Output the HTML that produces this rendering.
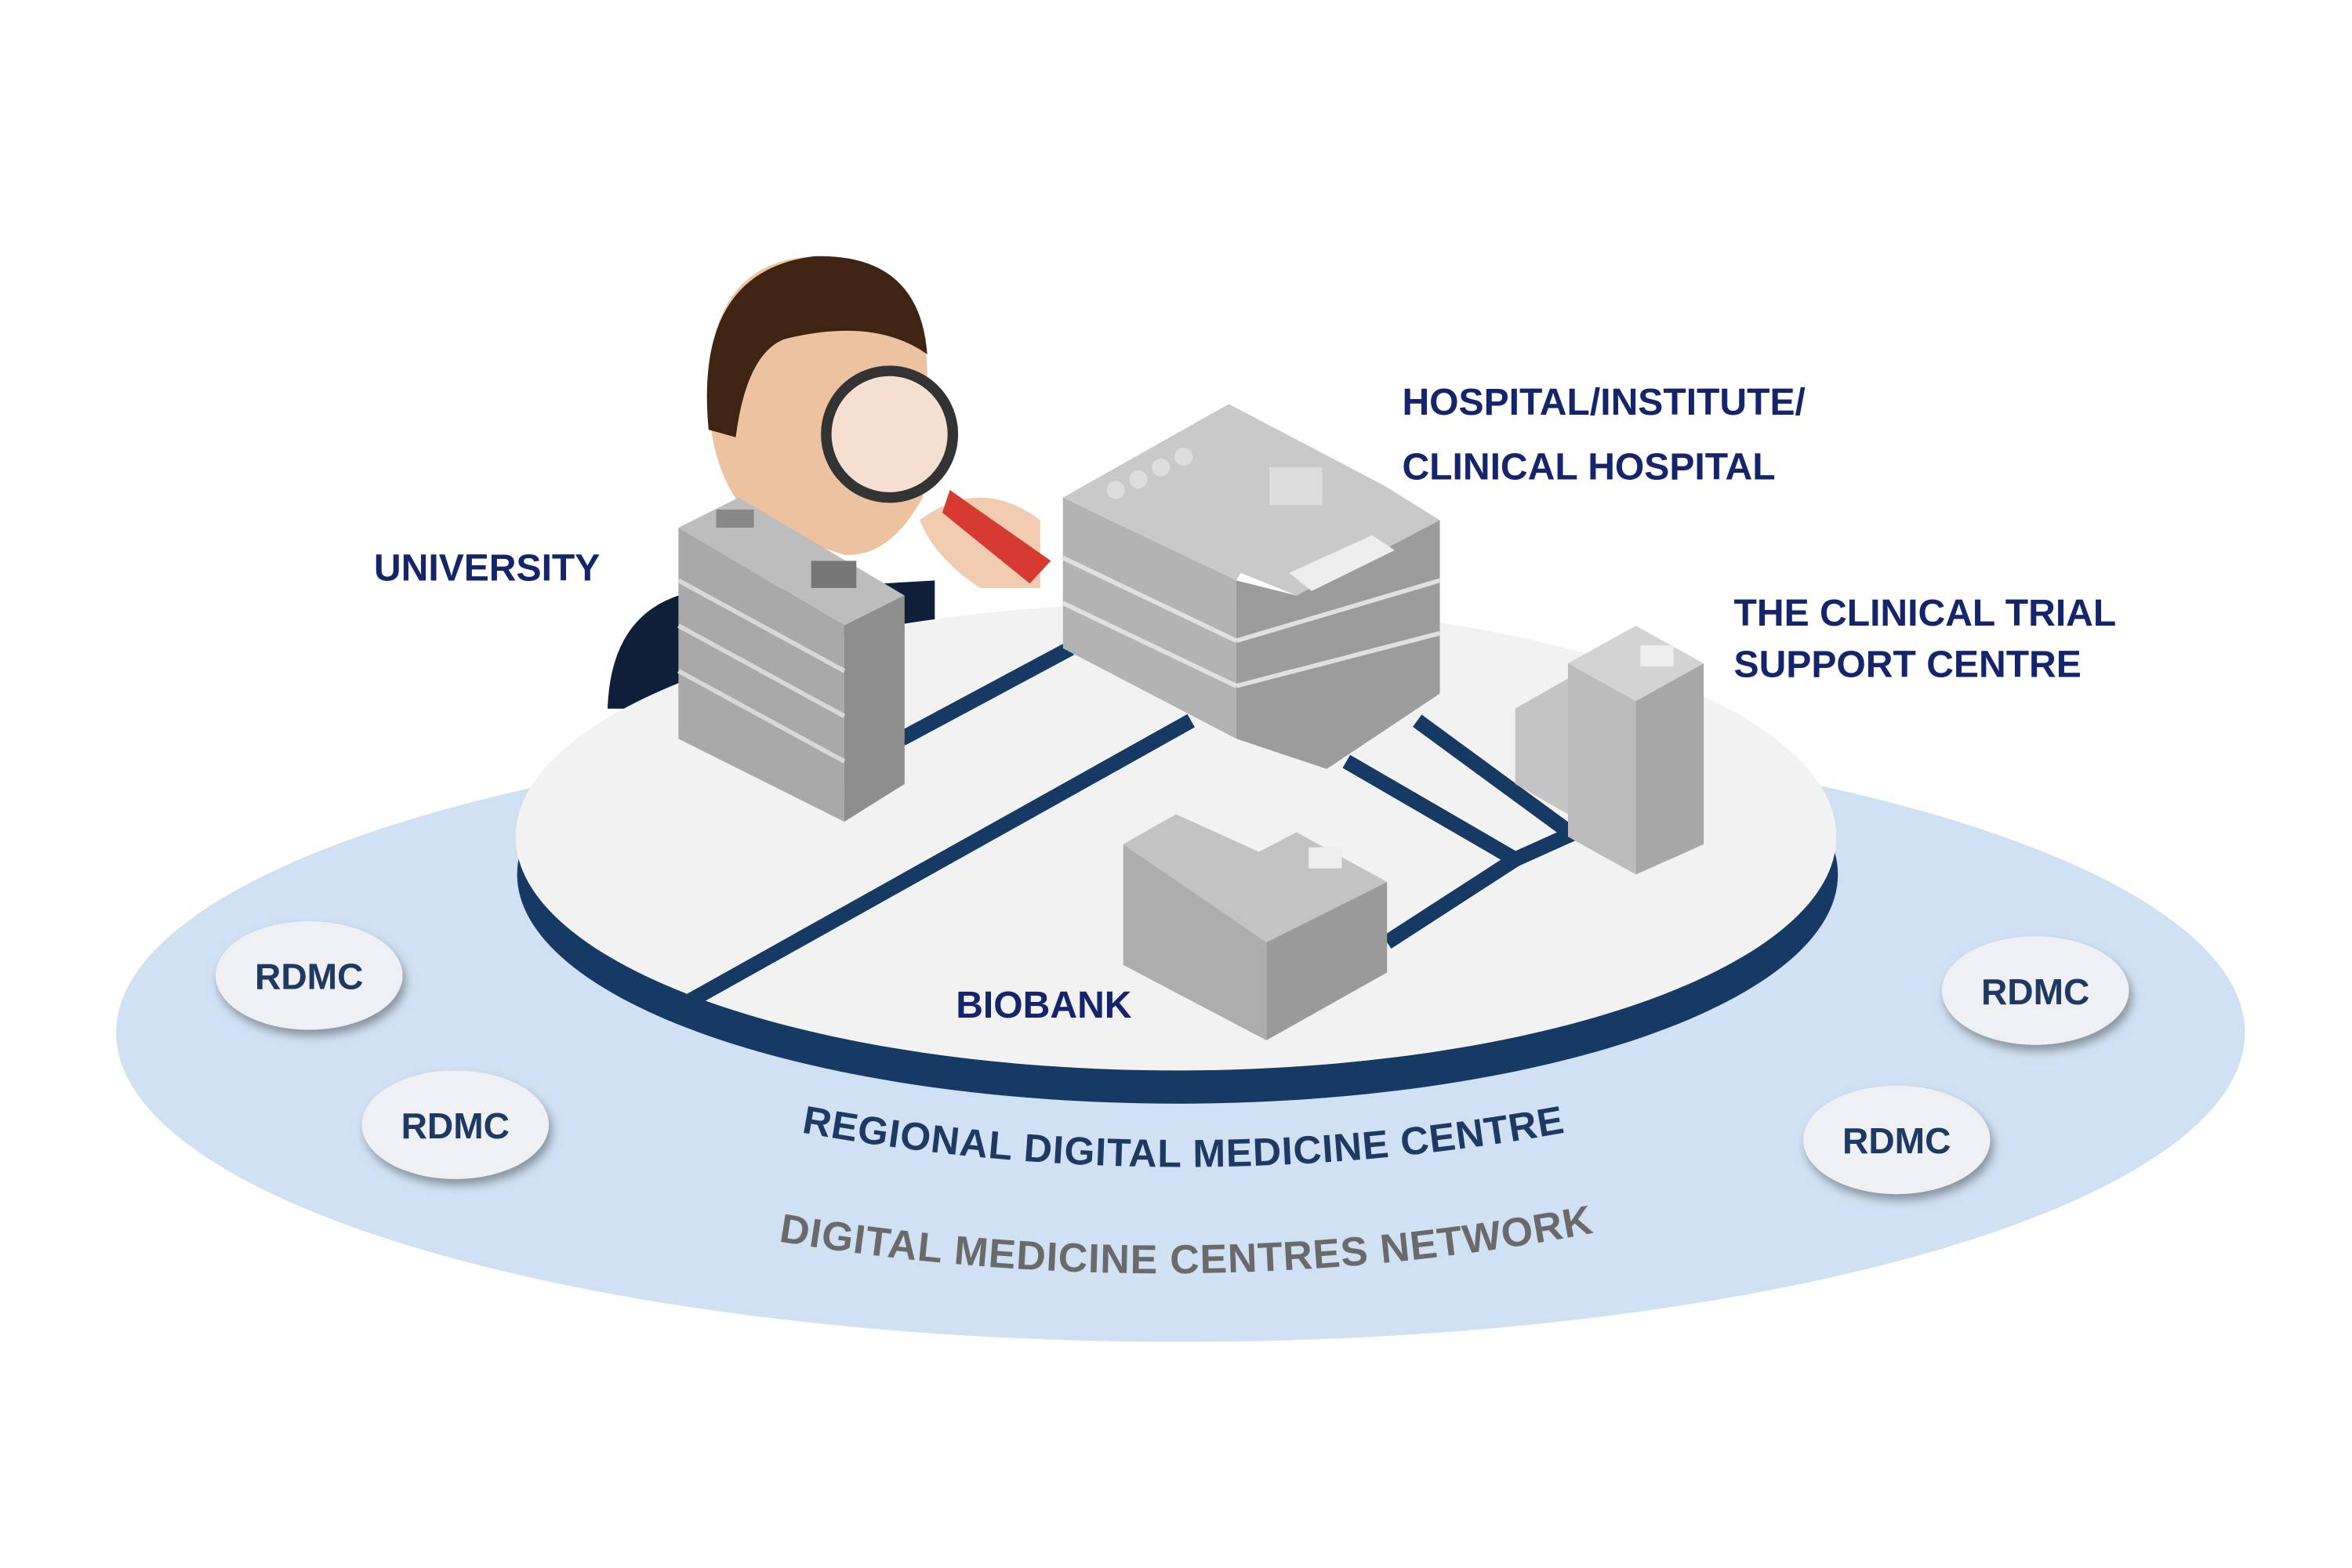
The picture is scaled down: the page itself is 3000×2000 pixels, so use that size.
<!DOCTYPE html>
<html><head><meta charset="utf-8"><style>html,body{margin:0;padding:0;background:#fff}svg{display:block}</style></head>
<body>
<svg width="3000" height="2000" viewBox="0 0 1560 1040" xmlns="http://www.w3.org/2000/svg" font-family="Liberation Sans, sans-serif" font-weight="bold">
<defs>
<filter id="sh" x="-30%" y="-30%" width="160%" height="160%"><feDropShadow dx="2" dy="4" stdDeviation="3" flood-color="#000" flood-opacity="0.35"/></filter>
<path id="arc1" d="M515,748 Q785,800 1055,748"/>
<path id="arc2" d="M508,822 Q790,870 1066,816"/>
</defs>
<ellipse cx="783" cy="685" rx="706" ry="205" fill="#cfe1f3"/>
<path d="M403,470 Q405,410 450,395 L620,385 L620,470 Z" fill="#0f1f3a"/>
<ellipse cx="781" cy="580" rx="438" ry="152" fill="#163a63"/>
<ellipse cx="780" cy="555" rx="438" ry="155" fill="#f2f2f2"/>
<g stroke="#163a63" stroke-width="10" fill="none">
<line x1="598" y1="490" x2="710" y2="430"/>
<line x1="443" y1="672" x2="790" y2="478"/>
<polyline points="893,505 1005,570 920,625"/>
<line x1="940" y1="478" x2="1045" y2="555"/>
<line x1="1005" y1="570" x2="1045" y2="552"/>
</g>
<path d="M470,260 Q470,170 545,170 Q615,172 615,250 L612,330 Q590,370 560,368 L505,350 Q470,320 470,260Z" fill="#edc2a0"/>
<path d="M470,285 Q460,180 540,170 Q610,168 615,235 Q580,210 520,225 Q495,235 488,290Z" fill="#3f2414"/>
<circle cx="590" cy="288" r="42" fill="#f4dfd0" stroke="#333" stroke-width="7"/>
<path d="M610,345 Q650,315 690,345 L690,390 L650,390 Q620,370 610,345Z" fill="#f1c7a8" opacity="0.9"/>
<path d="M630,325 L697,372 L683,387 L625,340Z" fill="#d63a33"/>
<g>
<polygon points="450,350 490,330 600,395 560,415" fill="#bdbdbd"/>
<polygon points="450,350 560,415 560,545 450,490" fill="#a9a9a9"/>
<polygon points="560,415 600,395 600,520 560,545" fill="#8e8e8e"/>
<rect x="475" y="338" width="25" height="12" fill="#888"/>
<rect x="538" y="372" width="30" height="18" fill="#777"/>
<g stroke="#d8d8d8" stroke-width="3"><line x1="450" y1="385" x2="560" y2="445"/><line x1="450" y1="415" x2="560" y2="475"/><line x1="450" y1="445" x2="560" y2="505"/></g>
</g>
<g>
<polygon points="705,330 815,268 918,322 955,345 860,395 823,380 820,385" fill="#c9c9c9"/>
<polygon points="705,330 820,385 820,490 705,430" fill="#b3b3b3"/>
<polygon points="820,385 860,395 955,345 955,460 880,510 820,490" fill="#9c9c9c"/>
<rect x="842" y="310" width="35" height="25" fill="#ddd"/>
<polygon points="855,380 910,355 925,365 870,392" fill="#eee"/>
<g fill="#ddd"><circle cx="740" cy="325" r="6"/><circle cx="755" cy="318" r="6"/><circle cx="770" cy="310" r="6"/><circle cx="785" cy="303" r="6"/></g>
<g stroke="#e0e0e0" stroke-width="3"><line x1="705" y1="370" x2="820" y2="425"/><line x1="705" y1="400" x2="820" y2="455"/><line x1="820" y1="425" x2="955" y2="385"/><line x1="820" y1="455" x2="955" y2="420"/></g>
</g>
<g>
<polygon points="1040,440 1085,415 1130,440 1085,465" fill="#d3d3d3"/>
<polygon points="1005,470 1040,450 1040,540 1005,520" fill="#c4c4c4"/>
<polygon points="1040,440 1085,465 1085,580 1040,555" fill="#bcbcbc"/>
<polygon points="1085,465 1130,440 1130,560 1085,580" fill="#a7a7a7"/>
<rect x="1088" y="428" width="22" height="14" fill="#eee"/>
</g>
<g>
<polygon points="745,560 780,540 835,565 860,552 920,585 840,625" fill="#c3c3c3"/>
<polygon points="745,560 840,625 840,690 745,640" fill="#adadad"/>
<polygon points="840,625 920,585 920,645 840,690" fill="#9a9a9a"/>
<rect x="868" y="562" width="22" height="14" fill="#eee"/>
</g>
<g fill="#16256b" font-size="25">
<text x="248" y="385">UNIVERSITY</text>
<text x="930" y="275">HOSPITAL/INSTITUTE/</text>
<text x="930" y="318">CLINICAL HOSPITAL</text>
<text x="1150" y="415">THE CLINICAL TRIAL</text>
<text x="1150" y="449">SUPPORT CENTRE</text>
<text x="634" y="675">BIOBANK</text>
</g>
<g filter="url(#sh)" fill="#eef0f3">
<ellipse cx="205" cy="647" rx="62" ry="36"/>
<ellipse cx="302" cy="746" rx="62" ry="36"/>
<ellipse cx="1350" cy="657" rx="62" ry="36"/>
<ellipse cx="1258" cy="756" rx="62" ry="36"/>
</g>
<g fill="#1e3a63" font-size="24" text-anchor="middle">
<text x="205" y="656">RDMC</text><text x="302" y="755">RDMC</text>
<text x="1350" y="666">RDMC</text><text x="1258" y="765">RDMC</text>
</g>
<text fill="#1e3a63" font-size="26" letter-spacing="0.5"><textPath href="#arc1" startOffset="50%" text-anchor="middle">REGIONAL DIGITAL MEDICINE CENTRE</textPath></text>
<text fill="#6a6a6a" font-size="27" letter-spacing="0.5"><textPath href="#arc2" startOffset="50%" text-anchor="middle">DIGITAL MEDICINE CENTRES NETWORK</textPath></text>
</svg>
</body></html>
